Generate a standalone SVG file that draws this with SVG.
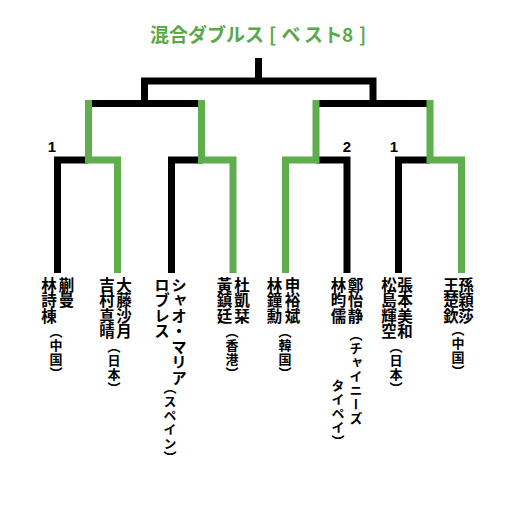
<svg xmlns="http://www.w3.org/2000/svg" width="520" height="520" viewBox="0 0 520 520">
<style>
.bk{fill:none;stroke:#000;stroke-width:7;stroke-linejoin:miter;stroke-linecap:butt}
.gr{fill:none;stroke:#5fae4d;stroke-width:7;stroke-linejoin:miter;stroke-linecap:butt}
.title{font-family:"Noto Sans CJK JP",sans-serif;font-weight:700;font-size:19px;fill:#5aa84b}
.num{font-family:"Liberation Sans",Arial,sans-serif;font-weight:700;font-size:15px;fill:#000}
.n{font-family:"Noto Sans CJK JP",sans-serif;font-weight:700;font-size:15.5px;fill:#000;writing-mode:vertical-rl}
.c{font-family:"Noto Sans CJK JP",sans-serif;font-weight:700;font-size:13px;letter-spacing:1px;fill:#000;writing-mode:vertical-rl}
</style>
<rect width="520" height="520" fill="#fff"/>
<text class="title" y="42"><tspan x="150">混合ダブルス</tspan><tspan x="269">[</tspan><tspan x="281.5">ベ</tspan><tspan x="304">ス</tspan><tspan x="323.5">ト</tspan><tspan x="342">8</tspan><tspan x="359">]</tspan></text>
<g id="connectors">
<path class="bk" d="M258.5,58 V81"/>
<path class="bk" d="M144.5,103.5 V81 H373 V103.5"/>
<path class="bk" d="M88.5,103.5 H201.5"/>
<path class="bk" d="M316,103.5 H430"/>
<path class="bk" d="M57.5,273 V160 H88.5"/>
<path class="bk" d="M171.5,273 V160 H202"/>
<path class="bk" d="M347,273 V160 H316"/>
<path class="bk" d="M398.5,273 V160 H430"/>
<path class="gr" d="M117.5,273 V160 H88.5 V100"/>
<path class="gr" d="M233,273 V160 H201.5 V100"/>
<path class="gr" d="M285.5,273 V160 H316 V100"/>
<path class="gr" d="M461.5,273 V160 H430 V100"/>
</g>
<g id="scores">
<text class="num" x="52" y="152" text-anchor="middle">1</text>
<text class="num" x="347" y="152" text-anchor="middle">2</text>
<text class="num" x="394" y="152" text-anchor="middle">1</text>
</g>
<g id="p1">
<text class="n" x="66.5" y="277">蒯曼</text>
<text class="n" x="49" y="277">林詩棟</text>
<text class="c" x="56" y="325">（中国）</text>
</g>
<g id="p2">
<text class="n" x="124" y="277">大藤沙月</text>
<text class="n" x="107" y="277">吉村真晴</text>
<text class="c" x="114" y="340">（日本）</text>
</g>
<g id="p3">
<text class="n" x="179" y="277">シャオ・マリア</text>
<text class="n" x="162" y="277">ロブレス</text>
<text class="c" x="170" y="381">（スペイン）</text>
</g>
<g id="p4">
<text class="n" x="242" y="277">杜凱栞</text>
<text class="n" x="224.5" y="277">黃鎮廷</text>
<text class="c" x="232" y="325">（香港）</text>
</g>
<g id="p5">
<text class="n" x="292.5" y="277">申裕斌</text>
<text class="n" x="274.5" y="277">林鐘勳</text>
<text class="c" x="285" y="325">（韓国）</text>
</g>
<g id="p6">
<text class="n" x="355.5" y="277">鄭怡静</text>
<text class="n" x="338.5" y="277">林昀儒</text>
<text class="c" x="356" y="328">（チャイニーズ</text>
<text class="c" x="338" y="379">タイペイ）</text>
</g>
<g id="p7">
<text class="n" x="405" y="277">張本美和</text>
<text class="n" x="389" y="277">松島輝空</text>
<text class="c" x="396" y="340">（日本）</text>
</g>
<g id="p8">
<text class="n" x="466" y="277">孫穎莎</text>
<text class="n" x="451" y="277">王楚欽</text>
<text class="c" x="458" y="323">（中国）</text>
</g>
</svg>
